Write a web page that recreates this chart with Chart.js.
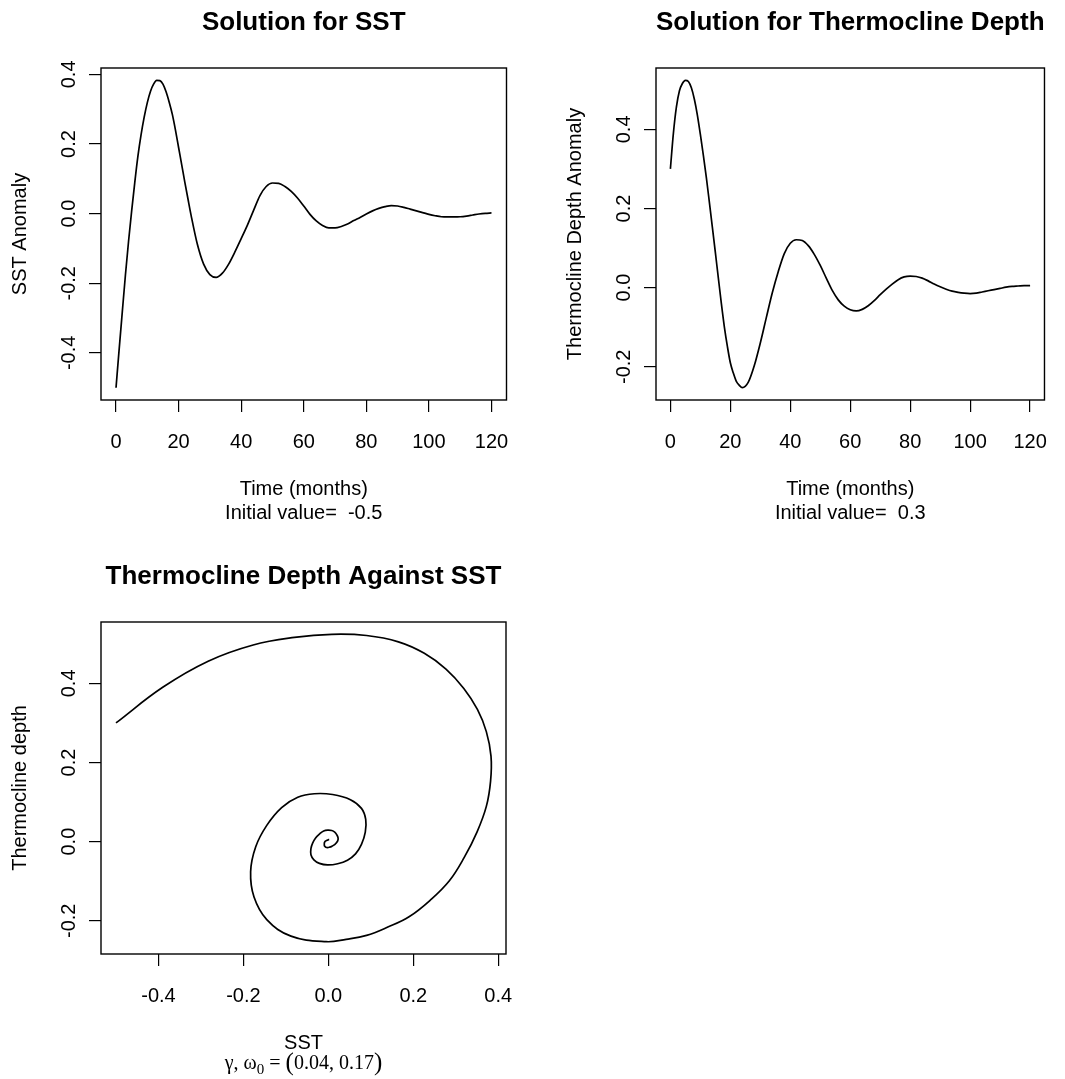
<!DOCTYPE html>
<html>
<head>
<meta charset="utf-8">
<script src="https://cdn.jsdelivr.net/npm/chart.js@4.4.0/dist/chart.umd.min.js"></script>
<style>
body { margin: 0; background: #fff; }
#wrap { position: relative; width: 1065px; height: 1079px; }
canvas { position: absolute; }
</style>
</head>
<body>
<div id="wrap">
  <canvas id="sstChart" width="532" height="540" style="left:0px;top:0px"></canvas>
  <canvas id="thermoChart" width="533" height="540" style="left:532px;top:0px"></canvas>
  <canvas id="phaseChart" width="532" height="539" style="left:0px;top:540px"></canvas>
</div>
<script>
// time in months (1-month steps early on, 2-month steps after)
const months = [0, 1, 2, 3, 4, 5, 6, 7, 8, 9, 10, 11, 12, 13, 14, 15, 16, 17, 18, 19, 20, 21, 22, 23,
  24, 26, 28, 30, 32, 34, 36, 38, 40, 42, 44, 46, 48, 50, 52, 54, 56, 58, 60,
  62, 64, 66, 68, 70, 72, 74, 76, 78, 80, 82, 84, 86, 88, 90, 92, 94, 96, 98, 100,
  102, 104, 106, 108, 110, 112, 114, 116, 118, 120];
const sst = [-0.5, -0.39, -0.283, -0.177, -0.08, 0.008, 0.09, 0.165, 0.226, 0.277, 0.319, 0.351, 0.372, 0.383, 0.382, 0.372, 0.35, 0.32, 0.285, 0.24, 0.19, 0.14, 0.09, 0.042,
  -0.005, -0.088, -0.145, -0.175, -0.183, -0.171, -0.145, -0.11, -0.072, -0.033, 0.01, 0.052, 0.078, 0.088, 0.087, 0.078, 0.064, 0.045, 0.022,
  -0.002, -0.021, -0.034, -0.041, -0.041, -0.037, -0.03, -0.02, -0.011, -0.001, 0.008, 0.015, 0.02, 0.023, 0.022, 0.018, 0.013, 0.008, 0.003, -0.002,
  -0.006, -0.009, -0.0095, -0.0095, -0.009, -0.007, -0.004, -0.001, 0.001, 0.002];
const thermo = [0.3, 0.39, 0.456, 0.497, 0.516, 0.524, 0.521, 0.505, 0.476, 0.436, 0.387, 0.334, 0.278, 0.216, 0.153, 0.089, 0.024, -0.04, -0.099, -0.148, -0.19, -0.216, -0.237, -0.247,
  -0.253, -0.239, -0.197, -0.14, -0.076, -0.013, 0.041, 0.086, 0.112, 0.121, 0.119, 0.106, 0.084, 0.056, 0.024, -0.007, -0.031, -0.047, -0.056,
  -0.059, -0.055, -0.046, -0.033, -0.018, -0.004, 0.009, 0.02, 0.027, 0.029, 0.028, 0.024, 0.017, 0.009, 0.002, -0.004, -0.009, -0.012, -0.014, -0.015,
  -0.014, -0.011, -0.008, -0.005, -0.002, 0.001, 0.003, 0.004, 0.005, 0.005];
const params = [0.04, 0.17];

const timeTicks = [0, 20, 40, 60, 80, 100, 120];
const sstTicks = [-0.4, -0.2, 0, 0.2, 0.4];
const thermoTicks = [-0.2, 0, 0.2, 0.4];

const black = '#000';
const sans = '"Liberation Sans", Arial, Helvetica, sans-serif';
const serif = '"Liberation Serif", "Times New Roman", serif';
Chart.defaults.font.family = sans;
Chart.defaults.color = black;

// R pads the data range by 4% on each side
function rRange(v) {
  const lo = Math.min(...v), hi = Math.max(...v), p = (hi - lo) * 0.04;
  return [lo - p, hi + p];
}

// box, rotated y tick labels, main title and optional extra line, R style
const rFrame = {
  id: 'rFrame',
  afterDraw(chart, args, o) {
    const { ctx, chartArea: a } = chart;
    ctx.save();
    ctx.strokeStyle = black;
    ctx.lineWidth = 1.4;
    ctx.strokeRect(a.left, a.top, a.right - a.left, a.bottom - a.top);
    ctx.fillStyle = black;
    ctx.textAlign = 'center';
    ctx.textBaseline = 'middle';
    ctx.font = '20px ' + sans;
    const ys = chart.scales.y;
    ys.ticks.forEach(t => {
      ctx.save();
      ctx.translate(a.left - 31.5, ys.getPixelForValue(t.value));
      ctx.rotate(-Math.PI / 2);
      ctx.fillText(t.value.toFixed(1), 0, 0);
      ctx.restore();
    });
    ctx.font = 'bold 26px ' + sans;
    ctx.fillText(o.main, (a.left + a.right) / 2, a.top - 45);
    if (o.sub) o.sub(ctx, (a.left + a.right) / 2, a.bottom + 115);
    ctx.restore();
  }
};

function drawParams(ctx, cx, y) {
  const parts = [
    ['\u03b3, \u03c9', '20px ' + serif, 0],
    ['0', '15px ' + serif, 5],
    [' = ', '20px ' + serif, 0],
    ['(', '25px ' + serif, 1],
    [params[0].toFixed(2) + ', ' + params[1].toFixed(2), '20px ' + serif, 0],
    [')', '25px ' + serif, 1]
  ];
  let w = 0;
  parts.forEach(p => { ctx.font = p[1]; w += ctx.measureText(p[0]).width; });
  let x = cx - w / 2;
  ctx.textAlign = 'left';
  ctx.textBaseline = 'alphabetic';
  parts.forEach(p => {
    ctx.font = p[1];
    ctx.fillText(p[0], x, y + p[2]);
    x += ctx.measureText(p[0]).width;
  });
}

// b: canvas size and plot box inside it
function makeChart(id, points, xr, yr, xt, yt, xFmt, xTitle, yTitle, main, b, sub) {
  return new Chart(document.getElementById(id), {
    type: 'scatter',
    data: {
      datasets: [{
        data: points,
        showLine: true,
        borderColor: black,
        borderWidth: 1.7,
        pointRadius: 0,
        fill: false,
        tension: b.tension,
        cubicInterpolationMode: b.mono ? 'monotone' : 'default'
      }]
    },
    options: {
      responsive: false,
      animation: false,
      events: [],
      layout: { padding: { top: b.top, right: b.w - b.right, left: 0, bottom: 0 } },
      plugins: {
        legend: { display: false },
        tooltip: { enabled: false },
        rFrame: { main: main, sub: sub }
      },
      scales: {
        x: {
          type: 'linear', min: xr[0], max: xr[1],
          afterBuildTicks: s => { s.ticks = xt.map(v => ({ value: v })); },
          afterFit: s => { s.height = b.h - b.bottom; },
          grid: { drawOnChartArea: false, drawTicks: true, tickLength: 12, color: black, lineWidth: 1.2 },
          border: { display: false },
          ticks: { font: { size: 20 }, color: black, padding: 18, maxRotation: 0, autoSkip: false, callback: xFmt },
          title: { display: true, text: xTitle, font: { size: 20 }, color: black, padding: { top: 0, bottom: b.xtPad } }
        },
        y: {
          type: 'linear', min: yr[0], max: yr[1],
          afterBuildTicks: s => { s.ticks = yt.map(v => ({ value: v })); },
          afterFit: s => { s.width = b.left; },
          grid: { drawOnChartArea: false, drawTicks: true, tickLength: 12, color: black, lineWidth: 1.2 },
          border: { display: false },
          ticks: { display: false },
          title: { display: true, text: yTitle, font: { size: 20 }, color: black, padding: { top: b.ytPad, bottom: 0 } }
        }
      }
    },
    plugins: [rFrame]
  });
}

const timeRange = rRange(months);

makeChart('sstChart',
  months.map((t, i) => ({ x: t, y: sst[i] })),
  timeRange, rRange(sst), timeTicks, sstTicks, v => String(v),
  ['Time (months)', 'Initial value=  ' + sst[0]], 'SST Anomaly', 'Solution for SST',
  { w: 532, h: 540, left: 101, right: 506.5, top: 68, bottom: 400, xtPad: 15, ytPad: 8.5, tension: 0, mono: true });

makeChart('thermoChart',
  months.map((t, i) => ({ x: t, y: thermo[i] })),
  timeRange, rRange(thermo), timeTicks, thermoTicks, v => String(v),
  ['Time (months)', 'Initial value=  ' + thermo[0]], 'Thermocline Depth Anomaly', 'Solution for Thermocline Depth',
  { w: 533, h: 540, left: 124, right: 527, top: 68, bottom: 400, xtPad: 15, ytPad: 31.5, tension: 0, mono: true });

makeChart('phaseChart',
  months.map((t, i) => ({ x: sst[i], y: thermo[i] })),
  rRange(sst), rRange(thermo), sstTicks, thermoTicks, v => v.toFixed(1),
  'SST', 'Thermocline depth', 'Thermocline Depth Against SST',
  { w: 532, h: 539, left: 101, right: 506, top: 82, bottom: 414, xtPad: 23.5, ytPad: 8.5, tension: 0.4, mono: false },
  drawParams);
</script>
</body>
</html>
